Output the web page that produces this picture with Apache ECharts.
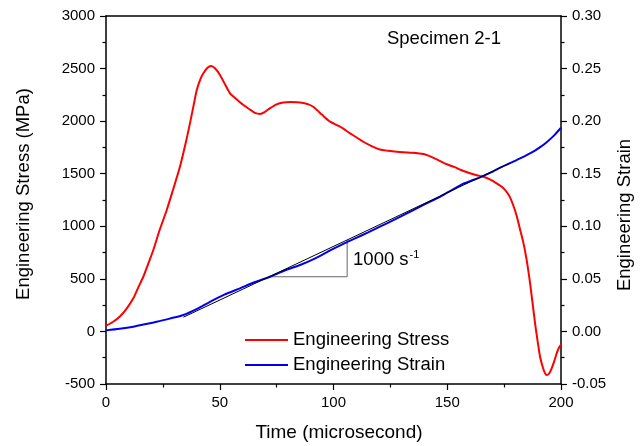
<!DOCTYPE html>
<html>
<head>
<meta charset="utf-8">
<script src="https://cdn.jsdelivr.net/npm/echarts@6/dist/echarts.min.js"></script>
<style>html,body{margin:0;padding:0;background:#fff}#c{width:642px;height:446px}</style>
</head>
<body>
<div id="c"></div>
<script>
// ---- data ----
const stressTime = [0,3,6,9,12,14,16.4,18.5,20.8,23.5,26.7,29.5,32.5,35,36.9,38.5,39.9,41.5,42.8,44.5,46.2,48,50.1,52.3,54.5,57,60.4,63.3,65.5,67.7,70,72,75,77.9,81,84,86.7,89,91.1,93,95,98.5,102.9,107.3,113.1,117,120.4,124,127.8,133.6,139.5,142.5,145.4,149.8,153,156,160,163,165.9,168.5,171.7,174,176,177.5,179,180.5,182,183.5,184.9,186.4,187.5,188.6,189.7,190.8,192,193,193.7,194.8,195.9,197,198.1,199,200];
const stressValue = [55,90,140,215,315,410,520,640,774,960,1155,1350,1566,1790,1979,2150,2296,2400,2455,2505,2524,2500,2439,2350,2265,2215,2153,2110,2078,2068,2090,2122,2160,2178,2182,2180,2172,2160,2137,2100,2060,1995,1947,1884,1804,1760,1730,1718,1709,1700,1687,1665,1637,1590,1565,1535,1504,1485,1471,1448,1409,1375,1330,1280,1200,1100,970,840,680,460,270,77,-90,-241,-340,-399,-415,-400,-351,-285,-208,-160,-125];
const strainTime = [0,6,12,17,22.3,28,34,40,45.7,52,58.9,65,72.1,78,85.3,92,98.5,105,110,115,120.4,127,133.6,140,146.8,152,157.1,162,165.9,170,174,177.6,182,187.8,191,193.7,197,200];
const strainValue = [0.001,0.0025,0.0045,0.0068,0.0092,0.0122,0.0156,0.0215,0.0282,0.035,0.041,0.0465,0.052,0.0575,0.0632,0.0695,0.077,0.084,0.089,0.094,0.0996,0.1065,0.1138,0.1208,0.128,0.1345,0.1405,0.1445,0.148,0.152,0.1565,0.16,0.1645,0.171,0.1755,0.18,0.1865,0.1937];
const tangentTime = [34, 177.5];
const tangentStrain = [0.0135, 0.16];
const triangleTime = [72, 106, 106];
const triangleStrain = [0.052, 0.052, 0.087];
const rateLabelPos = [108.6, 0.0682];
const rateText = '1000 s';
const rateExponent = '-1';
const seriesNames = ['Engineering Stress', 'Engineering Strain'];
const xTitle = 'Time (microsecond)';
const yLeftTitle = 'Engineering Stress (MPa)';
const yRightTitle = 'Engineering Strain';
const specimenText = 'Specimen 2-1';

const zip = (a, b) => a.map((v, i) => [v, b[i]]);
const FONT = '"Liberation Sans", Arial, sans-serif';
const axisLineStyle = { color: '#000', width: 1.5 };

const chart = echarts.init(document.getElementById('c'), null, { renderer: 'canvas' });
const baseAxis = {
  type: 'value',
  axisLine: { show: true, onZero: false, lineStyle: axisLineStyle },
  axisTick: { show: true, inside: false, length: 6, lineStyle: { color: '#000', width: 1.2 } },
  minorTick: { show: true, splitNumber: 2, length: 3.5, lineStyle: { color: '#000', width: 1.2 } },
  splitLine: { show: false },
  minorSplitLine: { show: false },
  axisLabel: { color: '#000', fontSize: 15, fontFamily: FONT }
};
const graphics = [
  { type: 'text', x: 24, y: 194, rotation: Math.PI / 2,
    style: { text: yLeftTitle, fontSize: 18.5, fontFamily: FONT, fill: '#000', align: 'center', verticalAlign: 'middle' } },
  { type: 'text', x: 625, y: 215, rotation: Math.PI / 2,
    style: { text: yRightTitle, fontSize: 18.5, fontFamily: FONT, fill: '#000', align: 'center', verticalAlign: 'middle' } },
  { type: 'text', x: 339, y: 433,
    style: { text: xTitle, fontSize: 19, fontFamily: FONT, fill: '#000', align: 'center', verticalAlign: 'middle' } },
  { type: 'text', x: 444, y: 39,
    style: { text: specimenText, fontSize: 18.5, fontFamily: FONT, fill: '#000', align: 'center', verticalAlign: 'middle' } }
];
chart.setOption({
  animation: false,
  backgroundColor: '#fff',
  textStyle: { fontFamily: FONT },
  grid: { left: 106, right: 81, top: 16, bottom: 62, containLabel: false },
  xAxis: [
    Object.assign({}, baseAxis, { min: 0, max: 200, interval: 50, position: 'bottom',
      axisLabel: Object.assign({}, baseAxis.axisLabel, { margin: 11, formatter: v => String(v) }) }),
    { type: 'value', min: 0, max: 200, position: 'top', axisLine: { show: true, onZero: false, lineStyle: axisLineStyle },
      axisTick: { show: false }, axisLabel: { show: false }, splitLine: { show: false } }
  ],
  yAxis: [
    Object.assign({}, baseAxis, { min: -500, max: 3000, interval: 500, position: 'left',
      axisLabel: Object.assign({}, baseAxis.axisLabel, { margin: 11, formatter: v => String(v) }) }),
    Object.assign({}, baseAxis, { min: -0.05, max: 0.30, interval: 0.05, position: 'right',
      axisLabel: Object.assign({}, baseAxis.axisLabel, { margin: 11, formatter: v => v.toFixed(2) }) })
  ],
  legend: {
    data: seriesNames,
    orient: 'vertical', left: 245, top: 330, padding: 0,
    icon: 'rect', itemWidth: 43, itemHeight: 2, itemGap: 5,
    textStyle: { fontSize: 18.5, color: '#000', fontFamily: FONT, lineHeight: 20 }
  },
  graphic: graphics,
  series: [
    { name: seriesNames[0], type: 'line', xAxisIndex: 0, yAxisIndex: 0, data: zip(stressTime, stressValue),
      showSymbol: false, smooth: 0.25, lineStyle: { color: '#ff0000', width: 2 }, itemStyle: { color: '#ff0000' }, z: 3 },
    { name: seriesNames[1], type: 'line', xAxisIndex: 0, yAxisIndex: 1, data: zip(strainTime, strainValue),
      showSymbol: false, smooth: 0.25, lineStyle: { color: '#0000ee', width: 2 }, itemStyle: { color: '#0000ee' }, z: 3 },
    { name: 'tangent', type: 'line', xAxisIndex: 0, yAxisIndex: 1, data: zip(tangentTime, tangentStrain),
      showSymbol: false, lineStyle: { color: '#000', width: 1 }, z: 4, silent: true },
    { name: 'triangle', type: 'line', xAxisIndex: 0, yAxisIndex: 1, data: zip(triangleTime, triangleStrain),
      showSymbol: false, lineStyle: { color: '#666', width: 1 }, z: 2, silent: true }
  ]
});
// slope label anchored through the axes
const p = chart.convertToPixel({ xAxisIndex: 0, yAxisIndex: 1 }, rateLabelPos);
chart.setOption({
  graphic: graphics.concat([{
    type: 'text', x: p[0], y: p[1],
    style: {
      text: '{a|' + rateText + '}{b|' + rateExponent + '}',
      align: 'left', verticalAlign: 'middle',
      rich: {
        a: { fontSize: 18.5, fill: '#000', fontFamily: FONT, verticalAlign: 'bottom' },
        b: { fontSize: 11, fill: '#000', fontFamily: FONT, verticalAlign: 'bottom', padding: [0, 0, 9, 1] }
      }
    }
  }])
});
</script>
</body>
</html>
